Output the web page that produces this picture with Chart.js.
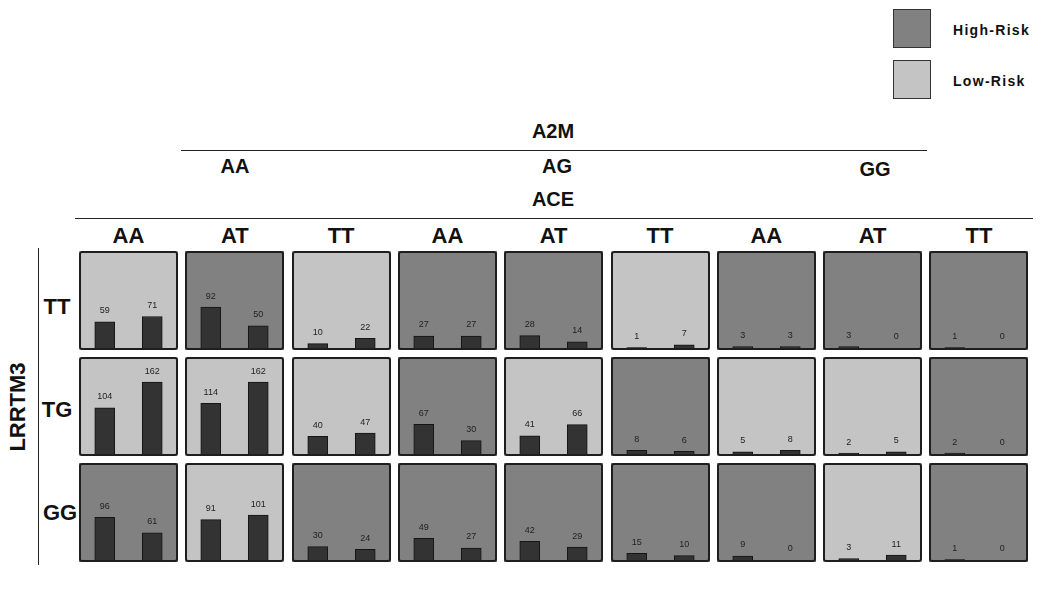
<!DOCTYPE html>
<html>
<head>
<meta charset="utf-8">
<script src="https://cdn.jsdelivr.net/npm/chart.js@4.4.1/dist/chart.umd.min.js"></script>
<style>
  body { margin: 0; background: #fff; }
  #wrap { position: relative; width: 1050px; height: 590px; overflow: hidden;
          font-family: "Liberation Sans", Arial, sans-serif; color: #111; }
  .t { position: absolute; transform: translate(-50%, -50%); font-weight: bold; white-space: nowrap; }
  .ln { position: absolute; background: #222; }
  canvas.cell { position: absolute; }
  .lg { position: absolute; width: 36px; height: 37px; border: 1px solid #333; }
</style>
</head>
<body>
<div id="wrap"></div>
<script>
// genotype groups
const a2mGroups = ["AA", "AG", "GG"];
const aceGroups = ["AA", "AT", "TT", "AA", "AT", "TT", "AA", "AT", "TT"];
const lrrtm3Rows = ["TT", "TG", "GG"];

// two bars per cell, one row per LRRTM3 genotype
const valuesTT = [[59, 71], [92, 50], [10, 22], [27, 27], [28, 14], [1, 7], [3, 3], [3, 0], [1, 0]];
const valuesTG = [[104, 162], [114, 162], [40, 47], [67, 30], [41, 66], [8, 6], [5, 8], [2, 5], [2, 0]];
const valuesGG = [[96, 61], [91, 101], [30, 24], [49, 27], [42, 29], [15, 10], [9, 0], [3, 11], [1, 0]];

// H = high-risk, L = low-risk
const riskTT = ["L", "H", "L", "H", "H", "L", "H", "H", "H"];
const riskTG = ["L", "L", "L", "H", "L", "H", "L", "L", "H"];
const riskGG = ["H", "L", "H", "H", "H", "H", "H", "L", "H"];

const legendLabels = ["High-Risk", "Low-Risk"];
const yMax = 214;

const allValues = [valuesTT, valuesTG, valuesGG];
const allRisk = [riskTT, riskTG, riskGG];
const riskColor = { H: "#818181", L: "#c4c4c4" };

const wrap = document.getElementById("wrap");

const addText = (txt, x, y, size, extra) => {
  const d = document.createElement("div");
  d.className = "t";
  d.textContent = txt;
  d.style.left = x + "px";
  d.style.top = y + "px";
  d.style.fontSize = size + "px";
  if (extra) Object.assign(d.style, extra);
  wrap.appendChild(d);
  return d;
};
const addLine = (x, y, w, h) => {
  const d = document.createElement("div");
  d.className = "ln";
  Object.assign(d.style, { left: x + "px", top: y + "px", width: w + "px", height: h + "px" });
  wrap.appendChild(d);
};

// legend
legendLabels.forEach((lab, i) => {
  const b = document.createElement("div");
  b.className = "lg";
  b.style.left = "893px";
  b.style.top = (9 + i * 51) + "px";
  b.style.background = i === 0 ? riskColor.H : riskColor.L;
  wrap.appendChild(b);
  const t = addText(lab, 953, 30 + i * 51, 14, { transform: "translate(0,-50%)", letterSpacing: "1.3px" });
});

const cellX0 = 79, cellY0 = 251, pitchX = 106.3, pitchY = 106, cellW = 99, cellH = 99;

// header
addText("A2M", 553, 131, 20);
addLine(181, 150, 746, 1);
const groupX = [235, 557, 875];
a2mGroups.forEach((g, i) => addText(g, groupX[i], i === 2 ? 169 : 166, 20));
addText("ACE", 553, 199, 20);
addLine(75, 218, 958, 1);
aceGroups.forEach((g, i) => addText(g, cellX0 + cellW / 2 + i * pitchX, 236, 22));

// row labels
addLine(38, 248, 1, 317);
addText("LRRTM3", 18, 407, 22, { transform: "translate(-50%,-50%) rotate(-90deg)" });
lrrtm3Rows.forEach((r, i) => addText(r, 57 + (i === 2 ? 3 : 0), 307 + i * 103, 22));

const makeCell = (values, risk, x, y) => {
  const c = document.createElement("canvas");
  c.className = "cell";
  c.width = cellW; c.height = cellH;
  c.style.left = x + "px"; c.style.top = y + "px";
  wrap.appendChild(c);

  const cellPlugin = {
    id: "cellFrame",
    beforeDraw(chart) {
      const ctx = chart.ctx;
      ctx.save();
      ctx.fillStyle = riskColor[risk];
      ctx.fillRect(0, 0, chart.width, chart.height);
      ctx.restore();
    },
    afterDatasetsDraw(chart) {
      const ctx = chart.ctx;
      const meta = chart.getDatasetMeta(0);
      ctx.save();
      ctx.fillStyle = "#222";
      ctx.font = "9px 'Liberation Sans', Arial, sans-serif";
      ctx.textAlign = "center";
      ctx.textBaseline = "middle";
      meta.data.forEach((el, i) => {
        ctx.fillText(String(chart.data.datasets[0].data[i]), el.x, el.y - 11);
      });
      ctx.restore();
    },
    afterDraw(chart) {
      const ctx = chart.ctx;
      ctx.save();
      ctx.strokeStyle = "#1e1e1e";
      ctx.lineWidth = 2;
      ctx.beginPath();
      ctx.roundRect(1, 1, chart.width - 2, chart.height - 2, 2);
      ctx.stroke();
      ctx.restore();
    }
  };

  new Chart(c, {
    type: "bar",
    data: {
      labels: ["1", "2"],
      datasets: [{
        data: values,
        backgroundColor: "#333333",
        borderColor: "#151515",
        borderWidth: 1,
        barThickness: 20
      }]
    },
    options: {
      responsive: false,
      animation: false,
      events: [],
      layout: { padding: { left: 2, right: 2, top: 2, bottom: 2 } },
      plugins: { legend: { display: false }, tooltip: { enabled: false } },
      scales: {
        x: { display: false },
        y: { display: false, min: 0, max: yMax }
      }
    },
    plugins: [cellPlugin]
  });
};

allValues.forEach((row, r) => {
  row.forEach((pair, ci) => {
    makeCell(pair, allRisk[r][ci], Math.round(cellX0 + ci * pitchX), Math.round(cellY0 + r * pitchY));
  });
});
</script>
</body>
</html>
